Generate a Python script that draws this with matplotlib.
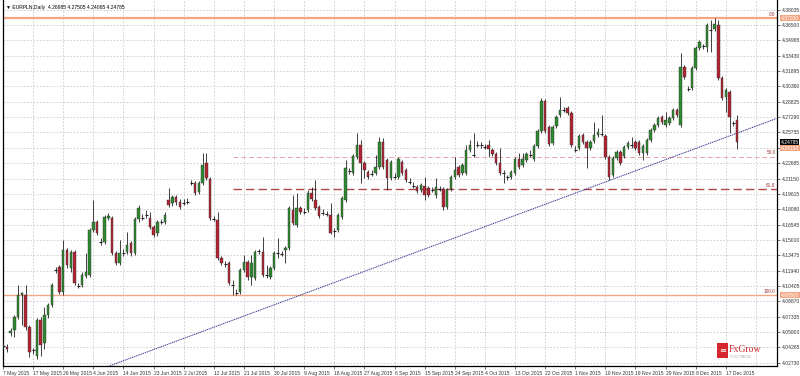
import numpy as np
import matplotlib.pyplot as plt
from matplotlib.patches import Rectangle
import matplotlib.transforms as mtransforms


# 1. Data (EURPLN daily candles)
dates = ["7 May 2015", "17 May 2015", "26 May 2015", "4 Jun 2015", "14 Jun 2015",
         "23 Jun 2015", "2 Jul 2015", "12 Jul 2015", "21 Jul 2015", "30 Jul 2015",
         "9 Aug 2015", "18 Aug 2015", "27 Aug 2015", "6 Sep 2015", "15 Sep 2015",
         "24 Sep 2015", "4 Oct 2015", "13 Oct 2015", "22 Oct 2015", "1 Nov 2015",
         "10 Nov 2015", "19 Nov 2015", "29 Nov 2015", "8 Dec 2015", "17 Dec 2015"]

opens = [4.045, 4.043, 4.057, 4.060, 4.073, 4.095, 4.095, 4.063, 4.039, 4.034,
         4.070, 4.047, 4.075, 4.085, 4.119, 4.123, 4.098, 4.140, 4.122, 4.138,
         4.105, 4.105, 4.114, 4.115, 4.160, 4.168, 4.148, 4.148, 4.172, 4.172,
         4.137, 4.127, 4.137, 4.138, 4.147, 4.137, 4.171, 4.172, 4.175, 4.172,
         4.163, 4.157, 4.168, 4.168, 4.190, 4.187, 4.193, 4.188, 4.187, 4.188,
         4.207, 4.207, 4.198, 4.207, 4.227, 4.211, 4.171, 4.170, 4.132, 4.126,
         4.127, 4.105, 4.097, 4.098, 4.120, 4.128, 4.113, 4.112, 4.138, 4.138,
         4.115, 4.113, 4.122, 4.137, 4.136, 4.140, 4.142, 4.180, 4.165, 4.182,
         4.178, 4.180, 4.197, 4.190, 4.183, 4.177, 4.177, 4.175, 4.159, 4.160,
         4.173, 4.190, 4.218, 4.217, 4.233, 4.245, 4.227, 4.218, 4.217, 4.217,
         4.223, 4.248, 4.230, 4.212, 4.213, 4.213, 4.228, 4.220, 4.208, 4.204,
         4.203, 4.200, 4.204, 4.202, 4.200, 4.195, 4.201, 4.201, 4.183, 4.201,
         4.213, 4.223, 4.217, 4.217, 4.240, 4.235, 4.245, 4.244, 4.243, 4.245,
         4.240, 4.236, 4.227, 4.217, 4.212, 4.213, 4.217, 4.231, 4.225, 4.230,
         4.235, 4.231, 4.244, 4.259, 4.289, 4.263, 4.247, 4.264, 4.275, 4.280,
         4.282, 4.277, 4.240, 4.242, 4.255, 4.248, 4.242, 4.249, 4.255, 4.257,
         4.254, 4.233, 4.215, 4.232, 4.238, 4.234, 4.243, 4.245, 4.248, 4.248,
         4.237, 4.237, 4.250, 4.260, 4.265, 4.273, 4.265, 4.267, 4.272, 4.280,
         4.265, 4.323, 4.302, 4.302, 4.322, 4.342, 4.343, 4.343, 4.361, 4.361,
         4.365, 4.312, 4.293, 4.298, 4.266, 4.26985]

highs = [4.048, 4.046, 4.062, 4.075, 4.105, 4.098, 4.105, 4.065, 4.042, 4.072,
         4.073, 4.083, 4.087, 4.107, 4.123, 4.125, 4.150, 4.142, 4.140, 4.140,
         4.107, 4.118, 4.137, 4.162, 4.190, 4.170, 4.152, 4.175, 4.177, 4.174,
         4.139, 4.150, 4.141, 4.158, 4.149, 4.173, 4.185, 4.176, 4.180, 4.178,
         4.165, 4.170, 4.171, 4.178, 4.202, 4.195, 4.195, 4.191, 4.191, 4.192,
         4.210, 4.209, 4.209, 4.237, 4.237, 4.213, 4.174, 4.178, 4.134, 4.129,
         4.129, 4.110, 4.101, 4.122, 4.135, 4.130, 4.135, 4.140, 4.141, 4.153,
         4.125, 4.124, 4.139, 4.152, 4.139, 4.144, 4.184, 4.195, 4.197, 4.184,
         4.182, 4.200, 4.203, 4.210, 4.185, 4.181, 4.179, 4.187, 4.162, 4.177,
         4.194, 4.230, 4.222, 4.236, 4.257, 4.250, 4.229, 4.220, 4.220, 4.235,
         4.253, 4.252, 4.232, 4.230, 4.217, 4.233, 4.230, 4.222, 4.212, 4.208,
         4.205, 4.207, 4.213, 4.204, 4.203, 4.212, 4.204, 4.203, 4.202, 4.215,
         4.233, 4.225, 4.227, 4.245, 4.250, 4.257, 4.249, 4.248, 4.246, 4.250,
         4.242, 4.238, 4.242, 4.220, 4.215, 4.220, 4.233, 4.237, 4.237, 4.238,
         4.240, 4.246, 4.261, 4.292, 4.291, 4.265, 4.265, 4.275, 4.293, 4.283,
         4.284, 4.279, 4.244, 4.256, 4.257, 4.250, 4.250, 4.268, 4.262, 4.275,
         4.256, 4.235, 4.234, 4.240, 4.240, 4.245, 4.249, 4.253, 4.250, 4.250,
         4.246, 4.252, 4.262, 4.267, 4.274, 4.275, 4.278, 4.274, 4.282, 4.282,
         4.337, 4.325, 4.304, 4.324, 4.344, 4.350, 4.346, 4.367, 4.370, 4.372,
         4.370, 4.314, 4.302, 4.300, 4.269, 4.27505]

lows = [4.041, 4.038, 4.054, 4.053, 4.071, 4.065, 4.060, 4.033, 4.036, 4.031,
        4.034, 4.041, 4.072, 4.083, 4.117, 4.096, 4.095, 4.122, 4.118, 4.105,
        4.102, 4.103, 4.112, 4.113, 4.158, 4.155, 4.145, 4.146, 4.170, 4.135,
        4.125, 4.125, 4.134, 4.136, 4.134, 4.135, 4.168, 4.170, 4.172, 4.161,
        4.153, 4.154, 4.166, 4.166, 4.183, 4.184, 4.185, 4.181, 4.185, 4.186,
        4.205, 4.195, 4.196, 4.205, 4.210, 4.170, 4.169, 4.130, 4.125, 4.123,
        4.105, 4.095, 4.095, 4.096, 4.118, 4.110, 4.105, 4.110, 4.136, 4.113,
        4.112, 4.111, 4.120, 4.132, 4.134, 4.127, 4.140, 4.165, 4.163, 4.176,
        4.176, 4.178, 4.189, 4.180, 4.172, 4.175, 4.174, 4.156, 4.153, 4.158,
        4.171, 4.188, 4.216, 4.215, 4.231, 4.207, 4.212, 4.211, 4.214, 4.215,
        4.221, 4.221, 4.200, 4.210, 4.211, 4.211, 4.215, 4.208, 4.206, 4.202,
        4.197, 4.198, 4.190, 4.193, 4.198, 4.192, 4.199, 4.180, 4.181, 4.199,
        4.211, 4.213, 4.215, 4.215, 4.238, 4.233, 4.243, 4.242, 4.241, 4.233,
        4.234, 4.225, 4.215, 4.207, 4.210, 4.211, 4.215, 4.221, 4.223, 4.228,
        4.233, 4.229, 4.242, 4.257, 4.257, 4.244, 4.245, 4.262, 4.273, 4.278,
        4.275, 4.243, 4.238, 4.240, 4.246, 4.222, 4.240, 4.247, 4.253, 4.254,
        4.231, 4.210, 4.213, 4.230, 4.225, 4.232, 4.241, 4.242, 4.240, 4.235,
        4.230, 4.235, 4.248, 4.258, 4.263, 4.266, 4.263, 4.265, 4.270, 4.273,
        4.263, 4.311, 4.299, 4.300, 4.320, 4.340, 4.341, 4.338, 4.338, 4.359,
        4.310, 4.290, 4.278, 4.257, 4.264, 4.24065]

closes = [4.044, 4.041, 4.059, 4.073, 4.095, 4.097, 4.063, 4.038, 4.040, 4.070,
          4.045, 4.075, 4.085, 4.105, 4.120, 4.098, 4.140, 4.125, 4.138, 4.107,
          4.104, 4.115, 4.118, 4.160, 4.168, 4.157, 4.149, 4.173, 4.174, 4.137,
          4.127, 4.137, 4.138, 4.145, 4.137, 4.171, 4.182, 4.173, 4.176, 4.163,
          4.155, 4.168, 4.169, 4.175, 4.185, 4.193, 4.188, 4.183, 4.188, 4.189,
          4.208, 4.197, 4.207, 4.225, 4.212, 4.172, 4.172, 4.132, 4.127, 4.127,
          4.107, 4.106, 4.098, 4.120, 4.128, 4.113, 4.127, 4.138, 4.139, 4.115,
          4.116, 4.122, 4.137, 4.138, 4.137, 4.142, 4.182, 4.167, 4.182, 4.178,
          4.179, 4.197, 4.191, 4.182, 4.174, 4.178, 4.176, 4.157, 4.160, 4.175,
          4.192, 4.222, 4.219, 4.234, 4.245, 4.227, 4.220, 4.213, 4.216, 4.223,
          4.248, 4.223, 4.212, 4.228, 4.214, 4.231, 4.217, 4.210, 4.209, 4.205,
          4.199, 4.205, 4.195, 4.195, 4.201, 4.203, 4.202, 4.183, 4.200, 4.213,
          4.220, 4.215, 4.225, 4.240, 4.245, 4.236, 4.246, 4.245, 4.244, 4.241,
          4.236, 4.227, 4.217, 4.218, 4.213, 4.218, 4.231, 4.223, 4.231, 4.236,
          4.236, 4.244, 4.259, 4.289, 4.259, 4.246, 4.263, 4.273, 4.280, 4.281,
          4.277, 4.245, 4.241, 4.254, 4.248, 4.242, 4.248, 4.255, 4.258, 4.256,
          4.233, 4.213, 4.232, 4.238, 4.227, 4.243, 4.247, 4.244, 4.242, 4.237,
          4.244, 4.250, 4.260, 4.265, 4.272, 4.268, 4.270, 4.272, 4.280, 4.275,
          4.323, 4.313, 4.301, 4.322, 4.342, 4.348, 4.344, 4.365, 4.360, 4.366,
          4.312, 4.292, 4.300, 4.273, 4.267, 4.24785]

price_ticks = [4.38035, 4.36500, 4.34965, 4.33430, 4.31895, 4.30360, 4.28825, 4.27290,
               4.25755, 4.24220, 4.22685, 4.21150, 4.19615, 4.18080, 4.16545, 4.15010,
               4.13475, 4.11940, 4.10405, 4.08870, 4.07335, 4.05800, 4.04265, 4.02730]

fibo_names = ["0.0", "50.0", "61.8", "100.0"]
fibo_high = 4.372
fibo_low = 4.095
fibo_start_bar = 61
trend_bars = [27.5, 205.4]
trend_prices = [4.023, 4.2714]
header = "EURPLN,Daily  4.26985 4.27505 4.24065 4.24785"
bid_label = "4.24785"
bid_price = 4.24785
ask_label = "4.24190"
ask_price = 4.2419


# 2. Figure setup
plt.rcParams['font.family'] = ['Liberation Sans', 'DejaVu Sans']
fig = plt.figure(figsize=(8.0, 3.76), dpi=100)
ax = fig.add_axes([3 / 800, 10 / 376, 774 / 800, 366 / 376])

n = len(closes)
x = np.arange(n)
ax.set_xlim(0.2, 205.6)
ax.set_ylim(4.024, 4.390)

grid_col = "#c9c9c9"
for t in price_ticks:
    ax.axhline(t, color=grid_col, lw=0.6, ls=(0, (2, 2)), zorder=0)
for k in range(1, 26):
    ax.axvline(8 * k, color=grid_col, lw=0.6, ls=(0, (2, 2)), zorder=0)


# 3. Fibonacci + horizontal levels
levels = [fibo_high - float(f) / 100 * (fibo_high - fibo_low) for f in fibo_names]
ax.axhline(levels[0], color="#f4a582", lw=1.6, zorder=1)
ax.axhline(levels[3], color="#f4a582", lw=1.0, zorder=1)
ax.hlines(levels[1], fibo_start_bar, 205.6, color="#e7a3a3", lw=0.7, ls=(0, (5, 3)), zorder=1)
ax.hlines(levels[2], fibo_start_bar, 205.6, color="#b04848", lw=1.0, ls=(0, (6, 3)), zorder=1)
for name, lv in zip(fibo_names, levels):
    ax.text(205.2, lv + 0.0012, name, fontsize=3.4, color="#a03030",
            ha="right", va="bottom", zorder=5)

# trend line
ax.plot(trend_bars, trend_prices, color="#2a2a8c", lw=0.7, ls=(0, (1.2, 0.8)), zorder=2)


# 4. Candles
green = "#2f8a2f"
red = "#b22530"
for i in range(n):
    o, h, l, c = opens[i], highs[i], lows[i], closes[i]
    ax.vlines(i, l, h, color="#202020", lw=0.6, zorder=3)
    if abs(c - o) < 0.0012:
        ax.hlines((o + c) / 2, i - 0.4, i + 0.4, color="#202020", lw=0.8, zorder=4)
    else:
        col = green if c > o else red
        ax.add_patch(Rectangle((i - 0.33, min(o, c)), 0.66, abs(c - o),
                               facecolor=col, edgecolor="#303030", lw=0.3, zorder=4))


# 5. Axes styling
for side in ["top"]:
    ax.spines[side].set_visible(False)
for side in ["left", "right", "bottom"]:
    ax.spines[side].set_linewidth(0.9)
    ax.spines[side].set_color("black")

ax.yaxis.tick_right()
ax.set_yticks(price_ticks)
ax.set_yticklabels([f"{t:.5f}" for t in price_ticks])
ax.tick_params(axis="y", labelsize=3.6, length=2, width=0.5, pad=1.5, colors="#333333")

ax.set_xticks([8 * k for k in range(len(dates))])
ax.set_xticklabels(dates, ha="left")
ax.tick_params(axis="x", labelsize=3.6, length=2, width=0.5, pad=1.5, colors="#333333")

# price boxes on the right axis
trans = mtransforms.blended_transform_factory(ax.transAxes, ax.transData)
box_items = [(levels[0], f"{levels[0]:.5f}", "#f4a582"),
             (bid_price, bid_label, "black"),
             (ask_price, ask_label, "#f4a582"),
             (levels[3], f"{levels[3]:.5f}", "#f4a582")]
for yv, lab, col in box_items:
    ax.text(1.0045, yv, lab, transform=trans, fontsize=3.6, color="white",
            va="center", ha="left", zorder=6, clip_on=False,
            bbox=dict(facecolor=col, edgecolor="none", pad=0.6))

# header
ax.text(0.004, 0.985, "\u25BC " + header, transform=ax.transAxes, fontsize=3.6,
        color="black", va="top", ha="left", family=["Liberation Sans", "DejaVu Sans"])


# 6. Watermark logo
fig.patches.append(Rectangle((717 / 800, 1 - 358 / 376), 11 / 800, 15 / 376,
                             transform=fig.transFigure, facecolor="#d4262c",
                             edgecolor="none", zorder=10))
fig.text(719.5 / 800, 1 - 351 / 376, "\u2261", color="white", fontsize=6,
         va="center", ha="left", family="DejaVu Sans", zorder=11)
fig.text(729 / 800, 1 - 349 / 376, "FxGrow", color="#c9282e", fontsize=7,
         va="center", ha="left", family="Liberation Serif", zorder=11)
fig.text(730 / 800, 1 - 357 / 376, "FOREX TRADING", color="#b0a0a0", fontsize=1.8,
         va="center", ha="left", zorder=11)

fig.savefig("out.png", dpi=100, facecolor="white")
